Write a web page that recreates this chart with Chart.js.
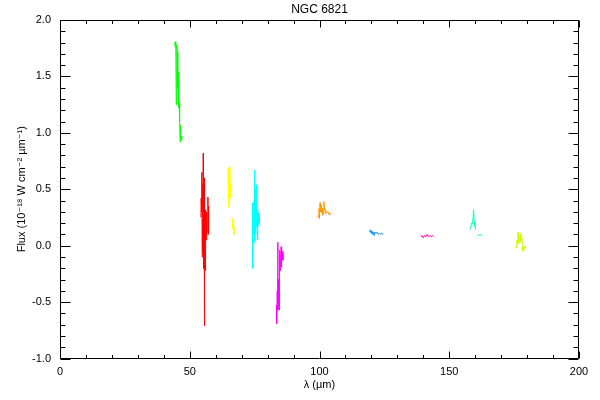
<!DOCTYPE html>
<html>
<head>
<meta charset="utf-8">
<script src="https://cdn.jsdelivr.net/npm/chart.js@4.4.1/dist/chart.umd.min.js"></script>
<style>
html,body{margin:0;padding:0;background:#fff;}
#wrap{width:600px;height:400px;}
</style>
</head>
<body>
<div id="wrap"><canvas id="c" width="600" height="400"></canvas></div>
<script>
// ---- data (wavelength in µm, flux in 1e-18 W cm^-2 µm^-1) ----
const chartTitle = 'NGC 6821';
const xTitle = 'λ (µm)';
const yTitle = 'Flux (10⁻¹⁸ W cm⁻² µm⁻¹)';
const xTicks = [0, 50, 100, 150, 200];
const yTicks = [-1.0, -0.5, 0.0, 0.5, 1.0, 1.5, 2.0];

const greenX = [44.2,44.4,44.6,44.8,45.0,45.2,45.4,45.5,45.6,45.7,45.8,45.9,46.0,46.2,46.3,46.4,46.5,46.7,46.9,47.0];
const greenY = [1.80,1.76,1.81,1.25,1.78,1.72,1.40,1.54,1.33,1.50,1.22,1.27,1.18,1.10,0.92,1.07,0.95,0.97,0.94,0.96];

const redX = [54.3,54.4,54.6,54.7,54.8,55.0,55.1,55.2,55.3,55.5,55.6,55.7,55.8,56.0,56.1,56.3,56.4,56.6,56.8,57.0,57.1,57.2,57.3];
const redY = [0.25,0.42,0.30,0.65,-0.10,0.55,-0.05,0.82,-0.20,0.45,-0.71,0.60,0.05,-0.22,0.32,0.05,0.30,0.10,0.15,0.43,0.10,0.35,0.14];

const yellowX = [64.7,64.8,64.9,65.0,65.1,65.3,65.4,65.5,65.6,65.7,65.8,66.0,66.2,66.4,66.6,66.8,67.0,67.2];
const yellowY = [0.55,0.69,0.34,0.60,0.45,0.70,0.52,0.57,0.48,0.55,0.42,null,0.22,0.24,0.15,0.18,0.10,0.14];

const cyanX = [74.1,74.2,74.3,74.5,74.6,74.8,74.9,75.0,75.1,75.3,75.4,75.6,75.7,75.8,76.0,76.1,76.3,76.5,76.7,76.8];
const cyanY = [0.38,0.30,-0.20,0.25,0.10,0.40,0.05,0.67,0.03,0.50,0.10,0.35,0.54,0.17,0.30,0.05,0.32,0.18,0.29,0.20];

const magentaX = [83.4,83.5,83.7,83.9,84.0,84.1,84.2,84.3,84.4,84.5,84.7,84.8,85.0,85.2,85.3,85.5,85.7,85.9,86.0];
const magentaY = [-0.53,-0.69,-0.40,0.03,-0.57,-0.30,-0.50,-0.35,-0.57,-0.29,-0.04,-0.22,-0.10,-0.01,-0.19,-0.08,-0.05,-0.13,-0.08];

const orangeX = [99.3,99.6,99.8,100.0,100.2,100.4,100.6,100.8,101.0,101.3,101.5,101.7,101.9,102.1,102.3,102.6,103.0,103.4,103.8,104.2,104.5];
const orangeY = [0.27,0.25,0.33,0.24,0.38,0.30,0.36,0.29,0.33,0.27,0.31,0.39,0.32,0.33,0.28,0.31,0.29,0.30,0.27,0.29,0.28];

const blueX = [119.3,119.6,119.9,120.2,120.5,120.8,121.1,121.4,121.8,122.2,122.6,123.0,123.5,124.0,124.6];
const blueY = [0.12,0.14,0.11,0.13,0.10,0.12,0.09,0.12,0.11,0.12,0.10,0.11,0.10,0.11,0.10];

const pinkX = [139.0,139.5,140.0,140.5,141.0,141.5,142.0,142.5,143.0,143.6,144.0];
const pinkY = [0.08,0.09,0.07,0.09,0.08,0.10,0.08,0.09,0.08,0.09,0.08];

const aquaX = [157.9,158.2,158.6,159.0,159.4,159.6,159.9,160.2,160.5,160.8,161.3,161.8,162.3,162.8];
const aquaY = [0.14,0.15,0.20,0.19,0.32,0.21,0.17,0.14,null,0.10,0.09,0.10,0.09,0.10];

const limeX = [175.7,175.9,176.1,176.3,176.5,176.7,177.0,177.2,177.5,177.7,177.9,178.2,178.4,178.7,179.0,179.3,179.6];
const limeY = [0.01,-0.02,0.05,0.01,0.12,0.02,0.09,0.03,0.11,0.04,0.08,0.0,-0.05,-0.01,-0.03,0.0,-0.02];

const segments = [
  [greenX, greenY, '#00ff00'],
  [redX, redY, '#ff0000'],
  [yellowX, yellowY, '#ffff00'],
  [cyanX, cyanY, '#00ffff'],
  [magentaX, magentaY, '#ff00ff'],
  [orangeX, orangeY, '#ff9900'],
  [blueX, blueY, '#0a8cf0'],
  [pinkX, pinkY, '#ff00a0'],
  [aquaX, aquaY, '#00ffb4'],
  [limeX, limeY, '#ccff00']
];

const datasets = segments.map(([xs, ys, col]) => ({
  data: xs.map((x, i) => ({x: x, y: ys[i]})),
  borderColor: col,
  backgroundColor: col,
  borderWidth: 1,
  pointRadius: 0,
  tension: 0,
  spanGaps: false,
  fill: false
}));

const FONT = 'Liberation Sans, DejaVu Sans, sans-serif';

const framePlugin = {
  id: 'frame',
  afterDraw(chart) {
    const {ctx, chartArea: a, scales: {x, y}} = chart;
    ctx.save();
    ctx.strokeStyle = '#000';
    ctx.lineWidth = 1;
    const L = Math.round(a.left) + 0.5, R = Math.round(a.right) - 0.5;
    const T = Math.round(a.top) + 0.5, B = Math.round(a.bottom) - 0.5;
    ctx.beginPath();
    ctx.rect(L, T, R - L, B - T);
    ctx.stroke();
    ctx.beginPath();
    for (let v = 0; v <= 200; v += 10) {
      const px = Math.round(x.getPixelForValue(v)) + 0.5;
      const len = (v % 50 === 0) ? 7 : 3.5;
      ctx.moveTo(px, B); ctx.lineTo(px, B - len);
      ctx.moveTo(px, T); ctx.lineTo(px, T + len);
    }
    for (let k = -10; k <= 20; k++) {
      const v = k / 10;
      const py = Math.round(y.getPixelForValue(v)) + 0.5;
      const len = (k % 5 === 0) ? 10 : 5;
      ctx.moveTo(L, py); ctx.lineTo(L + len, py);
      ctx.moveTo(R, py); ctx.lineTo(R - len, py);
    }
    ctx.stroke();
    ctx.fillStyle = '#000';
    ctx.font = '12px ' + FONT;
    ctx.textAlign = 'center';
    ctx.textBaseline = 'middle';
    ctx.fillText(chartTitle, (a.left + a.right) / 2, 10);
    ctx.restore();
  }
};

new Chart(document.getElementById('c'), {
  type: 'line',
  data: {datasets},
  plugins: [framePlugin],
  options: {
    responsive: false,
    animation: false,
    events: [],
    layout: {padding: {top: 20, right: 21, left: 0, bottom: 0}},
    plugins: {legend: {display: false}, tooltip: {enabled: false}, title: {display: false}},
    scales: {
      x: {
        type: 'linear',
        min: 0, max: 200,
        grid: {display: false, drawTicks: false},
        border: {display: false},
        afterFit(s) { s.height = 41.5; },
        afterBuildTicks(s) { s.ticks = xTicks.map(v => ({value: v})); },
        ticks: {color: '#000', font: {family: FONT, size: 11}, padding: 7, maxRotation: 0,
                callback: v => String(v)},
        title: {display: true, text: xTitle, color: '#000', font: {family: FONT, size: 11}, padding: {top: 0, bottom: 8}}
      },
      y: {
        type: 'linear',
        min: -1, max: 2,
        grid: {display: false, drawTicks: false},
        border: {display: false},
        afterFit(s) { s.width = 60; },
        afterBuildTicks(s) { s.ticks = yTicks.map(v => ({value: v})); },
        ticks: {color: '#000', font: {family: FONT, size: 11}, padding: 9,
                callback: v => Number(v).toFixed(1)},
        title: {display: true, text: yTitle, color: '#000', font: {family: FONT, size: 11}, padding: {top: 15, bottom: 0}}
      }
    }
  }
});
</script>
</body>
</html>
